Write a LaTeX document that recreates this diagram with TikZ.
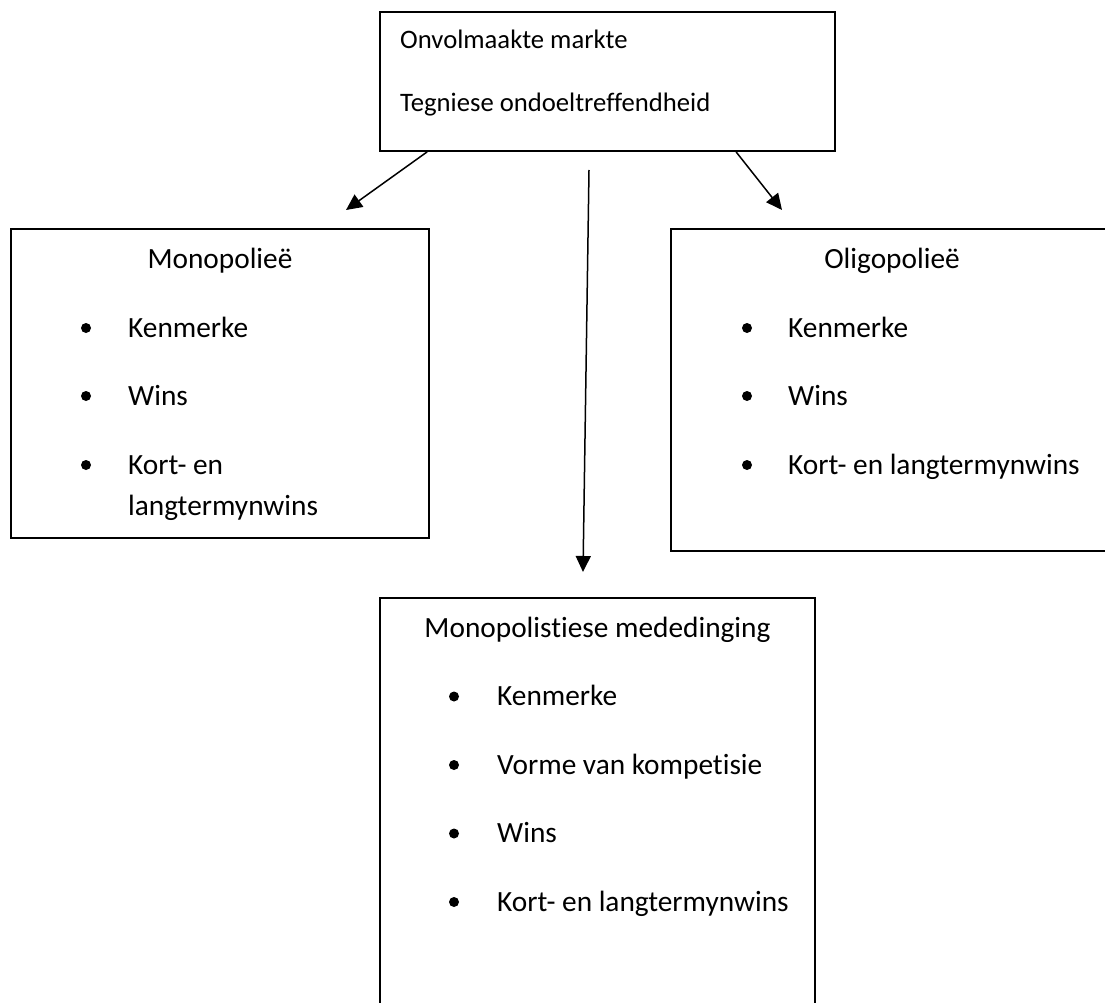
\documentclass[tikz,border=0pt]{standalone}
\usepackage{fontspec}
\setmainfont{Carlito}[Ligatures=NoCommon]
\usetikzlibrary{arrows.meta}
\begin{document}
\begin{tikzpicture}[x=1pt,y=-1pt,
  box/.style={draw, line width=1.8pt, rectangle, inner sep=0pt},
  conn/.style={line width=1.5pt, -{Triangle[length=16pt,width=15pt]}},
  big/.style={font=\fontsize{29.33}{33}\selectfont, inner sep=0pt},
  small/.style={font=\fontsize{26.67}{30}\selectfont, inner sep=0pt},
  dot/.style={circle, fill, inner sep=0pt, minimum size=10pt}]
\useasboundingbox (0,0) rectangle (1105,1003);
\clip (0,0) rectangle (1105,1003);

% boxes
\node[box, minimum width=455pt, minimum height=139pt] (top) at (607.5,81.5) {};
\node[box, minimum width=418pt, minimum height=309pt] (mono) at (220,383.5) {};
\node[box, minimum width=442pt, minimum height=322pt] (oligo) at (892,390) {};
\node[box, minimum width=435pt, minimum height=432pt] (monmed) at (597.5,814) {};

% top box text
\node[small, anchor=base west] (t1) at (400,49) {Onvolmaakte markte};
\node[small, anchor=base west] (t2) at (400,112) {Tegniese ondoeltreffendheid};

% left box
\node[big, anchor=base] (m0) at (220,268) {Monopolieë};
\node[dot] (mb1) at (86,328) {};
\node[dot] (mb2) at (86,396) {};
\node[dot] (mb3) at (86,465) {};
\node[big, anchor=base west] (m1) at (128,337) {Kenmerke};
\node[big, anchor=base west] (m2) at (128,405) {Wins};
\node[big, anchor=base west] (m3) at (128,474) {Kort- en};
\node[big, anchor=base west] (m4) at (128,515) {langtermynwins};

% right box
\node[big, anchor=base] (o0) at (892,268) {Oligopolieë};
\node[dot] (ob1) at (747,328) {};
\node[dot] (ob2) at (747,396) {};
\node[dot] (ob3) at (747,465) {};
\node[big, anchor=base west] (o1) at (788,337) {Kenmerke};
\node[big, anchor=base west] (o2) at (788,405) {Wins};
\node[big, anchor=base west] (o3) at (788,474) {Kort- en langtermynwins};

% bottom box
\node[big, anchor=base] (b0) at (597.5,637) {Monopolistiese mededinging};
\node[dot] (bb1) at (454,696.5) {};
\node[dot] (bb2) at (454,765) {};
\node[dot] (bb3) at (454,833.5) {};
\node[dot] (bb4) at (454,902) {};
\node[big, anchor=base west] (b1) at (497,705.5) {Kenmerke};
\node[big, anchor=base west] (b2) at (497,774) {Vorme van kompetisie};
\node[big, anchor=base west] (b3) at (497,842.5) {Wins};
\node[big, anchor=base west] (b4) at (497,911) {Kort- en langtermynwins};

% connectors
\coordinate (a1s) at ([xshift=48pt]top.south west);
\coordinate (a1e) at (346,210);
\coordinate (a2s) at (589,170);
\coordinate (a2e) at (583,572);
\coordinate (a3s) at ([xshift=357pt]top.south west);
\coordinate (a3e) at (782,210);
\draw[conn] (a1s) -- (a1e);
\draw[conn] (a2s) -- (a2e);
\draw[conn] (a3s) -- (a3e);
\end{tikzpicture}
\end{document}
